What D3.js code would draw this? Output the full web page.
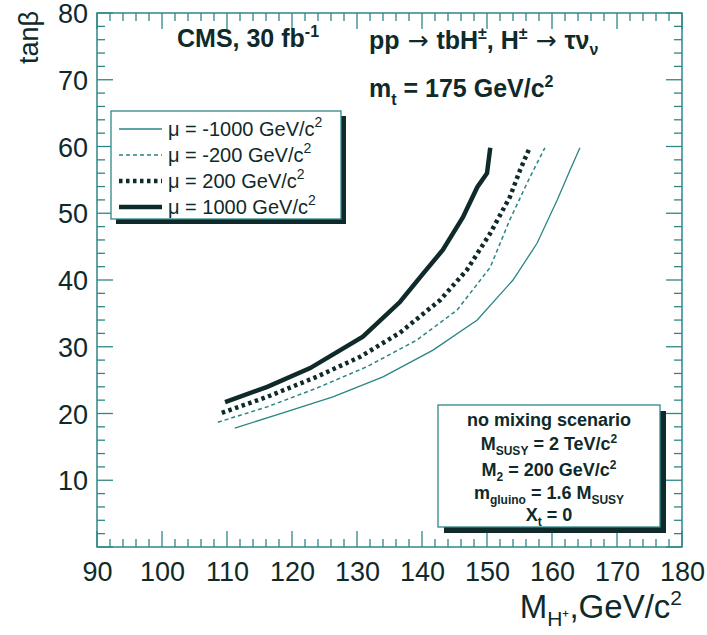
<!DOCTYPE html>
<html><head><meta charset="utf-8">
<script src="https://cdn.jsdelivr.net/npm/d3@7"></script>
<style>body{margin:0;background:#fff}svg{display:block}text{font-family:"Liberation Sans",Arial,Helvetica,sans-serif}</style>
</head><body><svg id="c" width="707" height="635"></svg>
<script>
// ---- data ----
const xTicks = [90,100,110,120,130,140,150,160,170,180];
const yTicks = [10,20,30,40,50,60,70,80];
const legendLabels = ["-1000","-200","200","1000"];
const muM1000 = [[111.2,17.8],[118.6,20.1],[126.3,22.5],[134.0,25.5],[141.7,29.5],[148.5,34.0],[154.0,40.0],[157.7,45.5],[160.8,52.0],[162.8,56.5],[164.3,59.8]];
const muM200 = [[108.6,18.7],[116.2,21.0],[123.8,23.8],[131.5,27.0],[139.2,31.0],[145.4,35.5],[150.5,41.9],[153.5,49.0],[156.6,55.4],[158.9,59.8]];
const muP200 = [[109.2,20.1],[116.2,22.5],[123.8,25.5],[130.5,28.5],[136.6,32.1],[142.8,37.0],[146.9,41.5],[150.5,47.0],[153.5,52.4],[155.1,56.5],[156.6,59.9]];
const muP1000 = [[109.7,21.7],[116.2,24.0],[122.8,26.8],[130.9,31.5],[136.6,36.7],[140.2,41.0],[143.2,44.5],[146.3,49.4],[148.5,53.9],[150.0,56.0],[150.5,59.8]];

const svg = d3.select("#c");
const L=97,R=682,T=13,B=547;
const x = d3.scaleLinear().domain([90,180]).range([L,R]);
const y = d3.scaleLinear().domain([0,80]).range([B,T]);
const frameCol="#2f8787", inkCol="#0f2a2a";

// ticks (major every 10, minor every 2) on all four sides
const xMinor = d3.range(90,180.01,2), yMinor = d3.range(0,80.01,2);
const g = svg.append("g");
function tick(x1,y1,x2,y2){g.append("line").attr("x1",x1).attr("y1",y1).attr("x2",x2).attr("y2",y2).attr("stroke",frameCol).attr("stroke-width",1.3);}
xMinor.forEach(v=>{const len = (Math.round(v)%10===0)?16:8; const px=x(v); tick(px,B,px,B-len); tick(px,T,px,T+len);});
yMinor.forEach(v=>{const len = (Math.round(v)%10===0)?16:8; const py=y(v); tick(L,py,L+len,py); tick(R,py,R-len,py);});
g.append("rect").attr("x",L).attr("y",T).attr("width",R-L).attr("height",B-T).attr("fill","none").attr("stroke",frameCol).attr("stroke-width",1.5);

// tick labels via axes
const xAxis = d3.axisBottom(x).tickValues(xTicks).tickSize(0).tickPadding(0);
const xa = svg.append("g").attr("transform",`translate(0,${B+14})`).call(xAxis);
xa.select(".domain").remove();
xa.selectAll("text").attr("font-size",27).attr("fill",inkCol).attr("dy","0.75em");
const yAxis = d3.axisLeft(y).tickValues(yTicks).tickSize(0).tickPadding(9);
const ya = svg.append("g").attr("transform",`translate(${L},0)`).call(yAxis);
ya.select(".domain").remove();
ya.selectAll("text").attr("font-size",27).attr("fill",inkCol).attr("dy","0.36em");

// curves
const line = d3.line().x(d=>x(d[0])).y(d=>y(d[1]));
const styles = [
  {data:muM1000, w:1.3, dash:null, col:"#2a8585"},
  {data:muM200, w:1.5, dash:"4,3", col:"#2a8585"},
  {data:muP200, w:4.5, dash:"3.5,3.5", col:inkCol},
  {data:muP1000, w:4.5, dash:null, col:inkCol}
];
styles.forEach(s=>{
  const p = svg.append("path").datum(s.data).attr("d",line).attr("fill","none").attr("stroke",s.col).attr("stroke-width",s.w);
  if(s.dash) p.attr("stroke-dasharray",s.dash);
});

// legend
const lg = svg.append("g");
lg.append("rect").attr("x",116).attr("y",116).attr("width",230).attr("height",108).attr("fill",inkCol);
lg.append("rect").attr("x",111).attr("y",111).attr("width",230).attr("height",108).attr("fill","#fff").attr("stroke",frameCol).attr("stroke-width",1.3);
legendLabels.forEach((lab,i)=>{
  const yy = 129 + i*26;
  const s = styles[i];
  const l = lg.append("line").attr("x1",119).attr("x2",162).attr("y1",yy).attr("y2",yy).attr("stroke",s.col).attr("stroke-width",s.w);
  if(s.dash) l.attr("stroke-dasharray",s.dash);
  const t = lg.append("text").attr("x",168).attr("y",yy+7).attr("font-size",20).attr("fill",inkCol);
  t.append("tspan").text(`\u03bc = ${lab} GeV/c`);
  t.append("tspan").attr("dy",-9).attr("font-size",14).text("2");
});

// top texts
const TF = 25, TS = 16;
const t1 = svg.append("text").attr("x",177).attr("y",47).attr("font-size",TF).attr("font-weight","bold").attr("fill",inkCol);
t1.append("tspan").text("CMS, 30 fb");
t1.append("tspan").attr("dy",-10).attr("font-size",TS).text("-1");
const arrow = (s,dy) => s.append("tspan").attr("dy",dy).attr("font-family","DejaVu Sans").attr("font-weight","normal").text(" \u2192 ");
const t2 = svg.append("text").attr("x",369).attr("y",49).attr("font-size",TF).attr("font-weight","bold").attr("fill",inkCol);
t2.append("tspan").text("pp");
arrow(t2,0);
t2.append("tspan").text("tbH");
t2.append("tspan").attr("dy",-10).attr("font-size",TS).text("\u00b1");
t2.append("tspan").attr("dy",10).text(", H");
t2.append("tspan").attr("dy",-10).attr("font-size",TS).text("\u00b1");
arrow(t2,10);
t2.append("tspan").text("\u03c4\u03bd");
t2.append("tspan").attr("dy",6).attr("font-size",TS).text("\u03bd");
const t3 = svg.append("text").attr("x",369).attr("y",97).attr("font-size",TF).attr("font-weight","bold").attr("fill",inkCol);
t3.append("tspan").text("m");
t3.append("tspan").attr("dy",8).attr("font-size",TS).text("t");
t3.append("tspan").attr("dy",-8).text(" = 175 GeV/c");
t3.append("tspan").attr("dy",-10).attr("font-size",TS).text("2");

// info box
const ib = svg.append("g");
ib.append("rect").attr("x",444).attr("y",411).attr("width",222).attr("height",122).attr("fill",inkCol);
ib.append("rect").attr("x",438).attr("y",405).attr("width",222).attr("height",122).attr("fill","#fff").attr("stroke",frameCol).attr("stroke-width",1.3);
const cx = 549;
function infoLine(yy, parts){
  const t = ib.append("text").attr("x",cx).attr("y",yy).attr("text-anchor","middle").attr("font-size",18).attr("font-weight","bold").attr("fill",inkCol);
  parts.forEach(p=>{const s=t.append("tspan").text(p[0]); if(p[1]) s.attr("font-size",12); if(p[2]) s.attr("dy",p[2]);});
}
infoLine(426,[["no mixing scenario"]]);
infoLine(450,[["M"],["SUSY",1,5],[" = 2 TeV/c",0,-5],["2",1,-7]]);
infoLine(476,[["M"],["2",1,5],[" = 200 GeV/c",0,-5],["2",1,-7]]);
infoLine(499,[["m"],["gluino",1,5],[" = 1.6 M",0,-5],["SUSY",1,5]]);
infoLine(521,[["X"],["t",1,5],[" = 0",0,-5]]);

// axis titles
const xt = svg.append("text").attr("x",682).attr("y",618).attr("text-anchor","end").attr("font-size",33).attr("fill",inkCol);
xt.append("tspan").text("M");
xt.append("tspan").attr("dy",8).attr("font-size",21).text("H\u207a");
xt.append("tspan").attr("dy",-8).text(",GeV/c");
xt.append("tspan").attr("dy",-13).attr("font-size",21).text("2");
svg.append("text").attr("transform","translate(38,11) rotate(-90)").attr("text-anchor","end").attr("font-size",27).attr("fill",inkCol).text("tan\u03b2");
</script></body></html>
